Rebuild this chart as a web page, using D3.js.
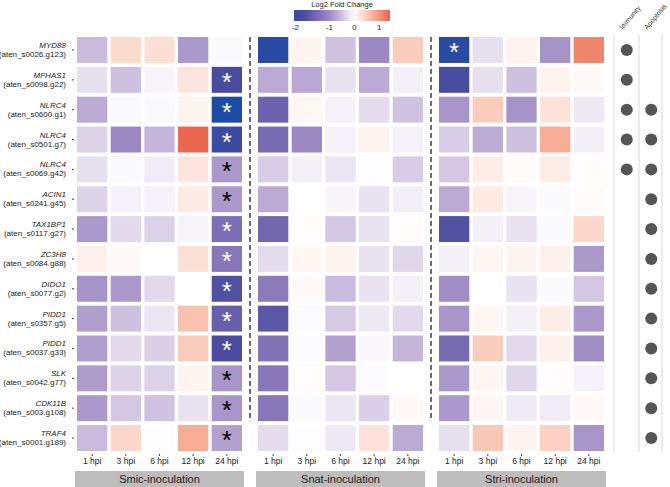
<!DOCTYPE html>
<html>
<head>
<meta charset="utf-8">
<script src="https://cdn.jsdelivr.net/npm/d3@7"></script>
<style>
  body { margin: 0; background: #fff; }
  svg { font-family: "Liberation Sans", Arial, sans-serif; }
</style>
</head>
<body>
<svg width="670" height="487"></svg>
<script>
var genes = ["MYD88", "MFHAS1", "NLRC4", "NLRC4", "NLRC4", "ACIN1", "TAX1BP1", "ZC3H8", "DIDO1", "PIDD1", "PIDD1", "SLK", "CDK11B", "TRAF4"];
var ids = ["aten_s0026.g123", "aten_s0098.g22", "aten_s0600.g1", "aten_s0501.g7", "aten_s0069.g42", "aten_s0241.g45", "aten_s0117.g27", "aten_s0084.g88", "aten_s0077.g2", "aten_s0357.g5", "aten_s0037.g33", "aten_s0042.g77", "aten_s003.g108", "aten_s0001.g189"];
var times = ["1 hpi", "3 hpi", "6 hpi", "12 hpi", "24 hpi"];
var panels = ["Smic-inoculation", "Snat-inoculation", "Stri-inoculation"];

// log2 fold change, one row per gene, columns = times
var smic = [
  [-0.55, 0.35, 0.3, -0.85, -0.05],
  [-0.25, -0.5, -0.08, 0.25, -1.8],
  [-0.7, -0.05, -0.05, 0.1, -2.3],
  [-0.35, -1.0, -0.6, 1.4, -2.0],
  [-0.25, -0.05, -0.15, 0.25, -0.85],
  [-0.35, -0.1, -0.1, 0.2, -0.85],
  [-0.85, -0.3, -0.35, -0.08, -1.3],
  [0.15, 0.05, 0.0, 0.3, -1.2],
  [-0.9, -0.85, -0.3, 0.0, -1.7],
  [-0.8, -0.5, -0.2, 0.6, -1.5],
  [-0.8, -0.3, -0.38, 0.5, -1.75],
  [-0.82, -0.35, -0.35, 0.1, -0.88],
  [-0.85, -0.45, -0.48, -0.22, -0.88],
  [-0.55, 0.38, -0.02, 0.8, -0.78]
];
var snat = [
  [-2.2, 0.1, -0.48, -1.0, 0.5],
  [-0.7, -0.72, -0.22, -0.7, -0.12],
  [-1.45, 0.08, -0.1, -0.27, -0.48],
  [-1.35, -1.0, -0.1, 0.1, -0.1],
  [-0.4, -0.12, -0.2, -0.02, -0.4],
  [-0.7, 0.0, -0.07, -0.22, -0.13],
  [-1.4, 0.03, -0.45, -0.22, 0.03],
  [-0.27, 0.08, 0.1, -0.22, -0.32],
  [-1.15, 0.06, -0.55, -0.22, -0.12],
  [-1.6, -0.03, -0.43, -0.17, -0.3],
  [-1.25, -0.03, -0.78, -0.06, -0.6],
  [-1.2, 0.03, -0.45, -0.03, 0.0],
  [-1.2, -0.04, -0.2, -0.38, 0.06],
  [-0.27, -0.02, -0.17, 0.28, -0.7]
];
var stri = [
  [-2.2, -0.25, 0.12, -0.9, 1.15],
  [-1.8, -0.25, -0.5, 0.12, 0.05],
  [-0.88, 0.5, -0.9, 0.28, -0.17],
  [-0.4, -0.68, -0.5, 0.8, -0.13],
  [-0.45, 0.18, 0.04, 0.18, 0.03],
  [-0.7, 0.2, -0.08, -0.04, 0.04],
  [-1.7, -0.12, -0.22, -0.04, 0.38],
  [-0.12, 0.08, 0.1, 0.15, -0.85],
  [-0.95, 0.0, -0.22, -0.04, -0.45],
  [-0.88, 0.08, -0.12, 0.18, -0.85],
  [-1.35, 0.5, -0.3, 0.15, -0.95],
  [-0.85, 0.08, -0.32, 0.03, -0.1],
  [-0.85, 0.08, -0.16, -0.14, 0.06],
  [-0.25, 0.55, 0.1, 0.45, -0.88]
];
// significance stars: [panel, row, col, colour]
var stars = [
  [0, 1, 4, "w"], [0, 2, 4, "w"], [0, 3, 4, "w"], [0, 4, 4, "b"], [0, 5, 4, "b"],
  [0, 6, 4, "w"], [0, 7, 4, "w"], [0, 8, 4, "w"], [0, 9, 4, "w"], [0, 10, 4, "w"],
  [0, 11, 4, "b"], [0, 12, 4, "b"], [0, 13, 4, "b"], [2, 0, 0, "w"]
];
var annCols = ["Immunity", "Apoptosis"];
var immunity = [1, 1, 1, 1, 1, 0, 0, 0, 0, 0, 0, 0, 0, 0];
var apoptosis = [0, 0, 1, 1, 1, 1, 1, 1, 1, 1, 1, 1, 1, 1];
var legendTicks = [-2, -1, 0, 1];

var svg = d3.select("svg");
var panelData = [smic, snat, stri];

var panelX = d3.scaleBand().domain(panels).range([77, 604]).paddingInner(0.0884).paddingOuter(0);
var x = d3.scaleBand().domain(times).range([0, panelX.bandwidth()]).paddingInner(0.1);
var y = d3.scaleBand().domain(d3.range(genes.length)).range([37, 451]).paddingInner(0.13);

var color = d3.scaleLinear()
    .domain([-2.3, -1.75, -1.0, -0.45, 0, 0.5, 1.45])
    .range(["#1d4aa3", "#4b4c9f", "#9c88c2", "#d3c7e3", "#ffffff", "#f9ccbb", "#e8634a"])
    .interpolate(d3.interpolateLab)
    .clamp(true);

// heat cells
panels.forEach(function(p, pi) {
    var g = svg.append("g").attr("transform", "translate(" + panelX(p) + ",0)");
    var cells = [];
    panelData[pi].forEach(function(row, ri) {
        row.forEach(function(v, ci) { cells.push({r: ri, c: ci, v: v}); });
    });
    g.selectAll("rect.cell").data(cells).enter().append("rect")
        .attr("class", "cell")
        .attr("x", function(d) { return x(times[d.c]); })
        .attr("y", function(d) { return y(d.r); })
        .attr("width", x.bandwidth())
        .attr("height", y.bandwidth())
        .attr("fill", function(d) { return color(d.v); });

    // x axis
    var ax = g.append("g")
        .attr("transform", "translate(0," + (y.range()[1] + 3) + ")")
        .call(d3.axisBottom(x).tickSize(2).tickPadding(2));
    ax.select(".domain").remove();
    ax.selectAll("line").attr("stroke", "#444");
    ax.selectAll("text").attr("fill", "#222").style("font-size", "8.5px")
        .style("font-family", "'Liberation Sans', Arial, sans-serif");

    // strip
    g.append("rect")
        .attr("x", -2).attr("y", 471)
        .attr("width", panelX.bandwidth() + 4).attr("height", 16)
        .attr("fill", "#bdbdbd");
    g.append("text")
        .attr("x", panelX.bandwidth() / 2).attr("y", 479)
        .attr("dy", "0.35em")
        .attr("text-anchor", "middle")
        .attr("fill", "#222")
        .style("font-size", "11px")
        .text(p);
});

// stars
svg.selectAll("text.star").data(stars).enter().append("text")
    .attr("class", "star")
    .attr("x", function(d) { return panelX(panels[d[0]]) + x(times[d[2]]) + x.bandwidth() / 2; })
    .attr("y", function(d) { return y(d[1]) + y.bandwidth() / 2 + 11; })
    .attr("text-anchor", "middle")
    .attr("fill", function(d) { return d[3] === "w" ? "#fff" : "#000"; })
    .style("font-size", "26px")
    .text("*");

// dashed separators
[0, 1].forEach(function(i) {
    var xe = panelX(panels[i]) + panelX.bandwidth();
    var xn = panelX(panels[i + 1]);
    svg.append("line")
        .attr("x1", (xe + xn) / 2).attr("x2", (xe + xn) / 2)
        .attr("y1", y.range()[0]).attr("y2", y(12) + y.bandwidth())
        .attr("stroke", "#333").attr("stroke-width", 1.4)
        .attr("stroke-dasharray", "5,3");
});

// row labels
var lab = svg.append("g").selectAll("g").data(genes).enter().append("g")
    .attr("transform", function(d, i) { return "translate(66," + (y(i) + y.bandwidth() / 2) + ")"; });
lab.append("text")
    .attr("text-anchor", "end").attr("y", -2)
    .attr("fill", "#222").style("font-size", "8px").style("font-style", "italic")
    .text(function(d) { return d; });
lab.append("text")
    .attr("text-anchor", "end").attr("y", 7)
    .attr("fill", "#222").style("font-size", "8px")
    .text(function(d, i) { return "(" + ids[i] + ")"; });
lab.append("line")
    .attr("x1", 6).attr("x2", 8).attr("y1", 0).attr("y2", 0)
    .attr("stroke", "#444");

// annotation columns
var annData = [immunity, apoptosis];
var ax2 = d3.scaleBand().domain(annCols).range([614, 662]).paddingInner(0.04);
svg.selectAll("line.vsep").data([614, 639, 662]).enter().append("line")
    .attr("class", "vsep")
    .attr("x1", function(d) { return d; }).attr("x2", function(d) { return d; })
    .attr("y1", 34).attr("y2", 452)
    .attr("stroke", "#d9d9d9").attr("stroke-width", 1);
annCols.forEach(function(c, ci) {
    var cx = ax2(c) + ax2.bandwidth() / 2 + 1;
    var pts = [];
    annData[ci].forEach(function(v, i) { if (v) pts.push(i); });
    svg.selectAll("circle.a" + ci).data(pts).enter().append("circle")
        .attr("class", "a" + ci)
        .attr("cx", cx)
        .attr("cy", function(i) { return y(i) + y.bandwidth() / 2; })
        .attr("r", 6)
        .attr("fill", "#555");
    svg.append("text")
        .attr("transform", "translate(" + (cx - 4) + ",30) rotate(-50)")
        .attr("fill", "#333")
        .style("font-size", "7px")
        .text(c);
});

// legend
var lx = d3.scaleLinear().domain([-2, -1, 0, 1.45]).range([295, 329, 354, 390]);
var defs = svg.append("defs");
var grad = defs.append("linearGradient").attr("id", "lg");
d3.range(0, 1.0001, 0.05).forEach(function(t) {
    var v = lx.invert(294 + t * 96);
    grad.append("stop").attr("offset", (t * 100) + "%").attr("stop-color", color(v));
});
svg.append("rect")
    .attr("x", 294).attr("y", 10).attr("width", 96).attr("height", 11)
    .attr("fill", "url(#lg)");
svg.append("text")
    .attr("x", 342).attr("y", 7)
    .attr("text-anchor", "middle")
    .attr("fill", "#222")
    .style("font-size", "7.5px")
    .text("Log2 Fold Change");
var lax = svg.append("g").attr("transform", "translate(0,21)")
    .call(d3.axisBottom(lx).tickValues(legendTicks).tickSize(0).tickPadding(3)
        .tickFormat(function(d) { return String(d); }));
lax.select(".domain").remove();
lax.selectAll("text").attr("fill", "#222").style("font-size", "8px")
    .style("font-family", "'Liberation Sans', Arial, sans-serif");
</script>
</body>
</html>
